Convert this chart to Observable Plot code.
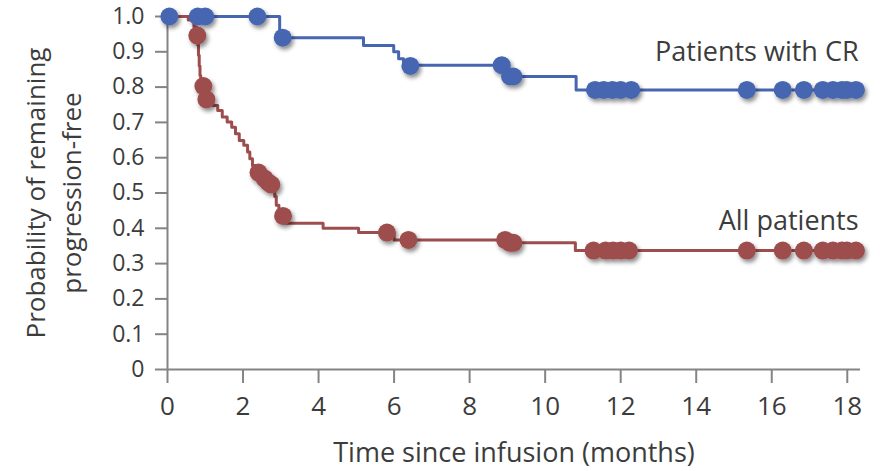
<!DOCTYPE html>
<html>
<head>
<meta charset="utf-8">
<script src="https://cdn.jsdelivr.net/npm/d3@7"></script>
<script src="https://cdn.jsdelivr.net/npm/@observablehq/plot@0.6"></script>
<style>
  html, body { margin: 0; padding: 0; background: #fff; }
  #chart svg text { font-weight: 400; }
</style>
</head>
<body>
<div id="chart"></div>
<script>
// ---- Data ----
// All patients (Kaplan-Meier steps: time of drop, value after drop)
const allTimes = [0, 0.55, 0.70, 0.77, 0.80, 0.82, 0.84, 0.86, 0.88, 1.00, 1.02, 1.20, 1.33, 1.45, 1.58, 1.70, 1.80, 1.90, 2.02, 2.12, 2.18, 2.25, 2.33, 2.50, 2.62, 2.72, 2.80, 2.84, 2.88, 2.95, 3.12, 4.12, 5.06, 6.00, 9.00, 10.80, 18.35];
const allSurv  = [1.0, 0.99, 0.97, 0.948, 0.92, 0.89, 0.86, 0.833, 0.805, 0.785, 0.765, 0.748, 0.734, 0.715, 0.701, 0.686, 0.668, 0.649, 0.635, 0.616, 0.597, 0.578, 0.558, 0.541, 0.530, 0.524, 0.51, 0.49, 0.465, 0.435, 0.414, 0.400, 0.388, 0.367, 0.359, 0.337, 0.337];
// All patients: censor marks
const allCensorTimes = [0.79, 0.95, 1.03, 2.41, 2.57, 2.67, 2.75, 3.06, 5.81, 6.38, 8.94, 9.07, 9.16, 11.28, 11.60, 11.80, 12.00, 12.22, 15.34, 16.29, 16.85, 17.35, 17.62, 17.86, 17.99, 18.23];
const allCensorSurv  = [0.946, 0.803, 0.765, 0.558, 0.541, 0.530, 0.524, 0.435, 0.388, 0.367, 0.367, 0.359, 0.359, 0.337, 0.337, 0.337, 0.337, 0.337, 0.337, 0.337, 0.337, 0.337, 0.337, 0.337, 0.337, 0.337];

// Patients with CR
const crTimes = [0, 2.97, 5.19, 5.99, 6.12, 6.25, 9.00, 10.82, 18.35];
const crSurv  = [1.0, 0.94, 0.918, 0.90, 0.88, 0.862, 0.83, 0.792, 0.792];
const crCensorTimes = [0.05, 0.80, 1.00, 2.38, 3.05, 6.43, 8.85, 9.07, 9.16, 11.32, 11.55, 11.78, 12.00, 12.28, 15.34, 16.29, 16.85, 17.35, 17.62, 17.86, 17.99, 18.23];
const crCensorSurv  = [1.0, 1.0, 1.0, 1.0, 0.94, 0.86, 0.862, 0.83, 0.83, 0.792, 0.792, 0.792, 0.792, 0.792, 0.792, 0.792, 0.792, 0.792, 0.792, 0.792, 0.792, 0.792];

// Axis ticks and labels
const xTicks = [0, 2, 4, 6, 8, 10, 12, 14, 16, 18];
const yTicks = [0, 0.1, 0.2, 0.3, 0.4, 0.5, 0.6, 0.7, 0.8, 0.9, 1.0];
const yTickLabels = ["0", "0.1", "0.2", "0.3", "0.4", "0.5", "0.6", "0.7", "0.8", "0.9", "1.0"];

const seriesNames = ["All patients", "Patients with CR"];
const xTitle = "Time since infusion (months)";
const yTitle = "Probability of remaining\nprogression-free";

// ---- Build tables ----
const allLine = allTimes.map((t, i) => ({t, s: allSurv[i]}));
const crLine = crTimes.map((t, i) => ({t, s: crSurv[i]}));
const allDots = allCensorTimes.map((t, i) => ({t, s: allCensorSurv[i]}));
const crDots = crCensorTimes.map((t, i) => ({t, s: crCensorSurv[i]}));

const BLUE = "#4666b1";
const RED = "#9e4d4e";
const AXIS = "#848484";
const TEXT = "#3c3c3c";

const chart = Plot.plot({
  width: 880,
  height: 471,
  marginLeft: 167,
  marginRight: 20,
  marginTop: 16,
  marginBottom: 102,
  x: {domain: [0, 18.35]},
  y: {domain: [0, 1]},
  style: {fontFamily: "'Open Sans', sans-serif", background: "#fff", color: TEXT},
  marks: [
    Plot.axisX(xTicks, {tickSize: 14, tickPadding: 13, stroke: AXIS, strokeWidth: 2, fill: TEXT, fontSize: 26, label: null, tickFormat: d => String(d)}),
    Plot.axisY(yTicks, {tickSize: 12, tickPadding: 11, stroke: AXIS, strokeWidth: 2, fill: TEXT, fontSize: 23, label: null, tickFormat: (d, i) => yTickLabels[i]}),
    Plot.ruleY([0], {stroke: AXIS, strokeWidth: 2}),
    Plot.ruleX([0], {y1: 0, y2: 1.01, stroke: AXIS, strokeWidth: 2}),
    Plot.line(crLine, {x: "t", y: "s", curve: "step-after", stroke: BLUE, strokeWidth: 3}),
    Plot.line(allLine, {x: "t", y: "s", curve: "step-after", stroke: RED, strokeWidth: 3}),
    Plot.dot(crDots, {x: "t", y: "s", r: 9, fill: BLUE, stroke: "none"}),
    Plot.dot(allDots, {x: "t", y: "s", r: 9, fill: RED, stroke: "none"}),
    Plot.text([seriesNames[1]], {x: 18.3, y: 0.898, text: d => d, textAnchor: "end", fontSize: 27, fill: TEXT}),
    Plot.text([seriesNames[0]], {x: 18.3, y: 0.419, text: d => d, textAnchor: "end", fontSize: 27, fill: TEXT}),
    Plot.text([xTitle], {frameAnchor: "bottom", dy: 84, lineAnchor: "middle", text: d => d, fontSize: 27, fill: TEXT}),
    Plot.text([yTitle], {frameAnchor: "left", dx: -116, rotate: -90, textAnchor: "middle", lineAnchor: "middle", text: d => d, fontSize: 26, lineHeight: 1.4, fill: TEXT})
  ]
});

// drop shadow for the censor dots
const ns = "http://www.w3.org/2000/svg";
const defs = document.createElementNS(ns, "defs");
const filter = document.createElementNS(ns, "filter");
filter.setAttribute("id", "dotshadow");
filter.setAttribute("x", "-50%"); filter.setAttribute("y", "-50%");
filter.setAttribute("width", "200%"); filter.setAttribute("height", "200%");
const ds = document.createElementNS(ns, "feDropShadow");
ds.setAttribute("dx", "2"); ds.setAttribute("dy", "3");
ds.setAttribute("stdDeviation", "2");
ds.setAttribute("flood-color", "#000"); ds.setAttribute("flood-opacity", "0.45");
filter.appendChild(ds); defs.appendChild(filter);
chart.insertBefore(defs, chart.firstChild);
chart.querySelectorAll('g[aria-label="dot"]').forEach(g => g.setAttribute("filter", "url(#dotshadow)"));

document.getElementById("chart").appendChild(chart);
</script>
</body>
</html>
